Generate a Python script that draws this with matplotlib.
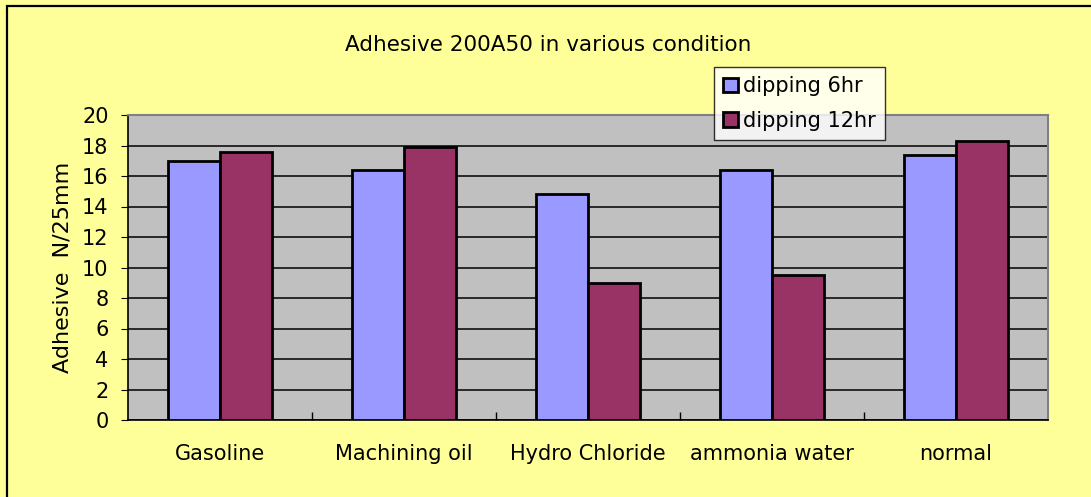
import matplotlib

matplotlib.use("Agg")

import matplotlib.pyplot as plt
import numpy as np
from matplotlib.patches import Rectangle

plt.rcParams["font.family"] = ["DejaVu Sans"]

# ---------------------------------------------------------------------------
# Data
# ---------------------------------------------------------------------------
conditions = ["Gasoline", "Machining oil", "Hydro Chloride", "ammonia water", "normal"]
dip_6hr = [17.0, 16.4, 14.8, 16.4, 17.4]
dip_12hr = [17.6, 17.9, 9.0, 9.5, 18.3]
series_names = ["dipping 6hr", "dipping 12hr"]
y_ticks = list(range(0, 21, 2))

BG = "#FFFF99"
PLOT_BG = "#C0C0C0"
C6 = "#9999FF"
C12 = "#993366"

W, H = 1091, 497
fig = plt.figure(figsize=(W / 100, H / 100), dpi=100, facecolor=BG)

# outer chart border (only top/left visible in the reference)
fig.patches.append(Rectangle((7 / W, -0.05), 1.2, 1 - 6 / H + 0.05,
                             transform=fig.transFigure, fill=False,
                             edgecolor="black", linewidth=1.6, zorder=0))

ax = fig.add_axes([128 / W, 1 - 420 / H, 920 / W, 305 / H])
ax.set_facecolor(PLOT_BG)

x = np.arange(len(conditions))
bw = 0.285
ax.bar(x - bw / 2, dip_6hr, width=bw, color=C6, edgecolor="black",
       linewidth=2, label=series_names[0], zorder=3)
ax.bar(x + bw / 2, dip_12hr, width=bw, color=C12, edgecolor="black",
       linewidth=2, label=series_names[1], zorder=3)

ax.set_xlim(-0.5, len(conditions) - 0.5)
ax.set_ylim(0, 20)
ax.set_yticks(y_ticks)
ax.yaxis.grid(True, color="black", linewidth=1.1, zorder=1)
ax.set_axisbelow(True)

# category labels centred, tick marks on boundaries pointing inward
ax.set_xticks(x, labels=conditions, fontsize=15)
ax.tick_params(axis="x", length=0, pad=17)
ax.set_xticks(np.arange(0.5, len(conditions) - 0.5, 1), minor=True)
ax.tick_params(axis="x", which="minor", direction="in", length=6, width=1)
ax.tick_params(axis="y", direction="out", length=5, labelsize=15, pad=9)

for side in ("top", "right"):
    ax.spines[side].set_color("#808080")
    ax.spines[side].set_linewidth(1.5)
for side in ("left", "bottom"):
    ax.spines[side].set_color("black")
    ax.spines[side].set_linewidth(1.2)

ax.set_ylabel("Adhesive  N/25mm", fontsize=16, labelpad=7)

fig.text(548 / W, 1 - 45 / H, "Adhesive 200A50 in various condition",
         ha="center", va="center", fontsize=15.5)

leg = fig.legend(loc="upper left", bbox_to_anchor=(714 / W, 1 - 67 / H),
                 fontsize=15, frameon=True, fancybox=False,
                 handlelength=0.7, handleheight=0.7, handletextpad=0.25,
                 borderpad=0.45, labelspacing=0.68, borderaxespad=0)
leg.get_frame().set_edgecolor("black")
leg.get_frame().set_linewidth(1)
leg.set_zorder(10)

fig.savefig("out.png", dpi=100, facecolor=BG)
